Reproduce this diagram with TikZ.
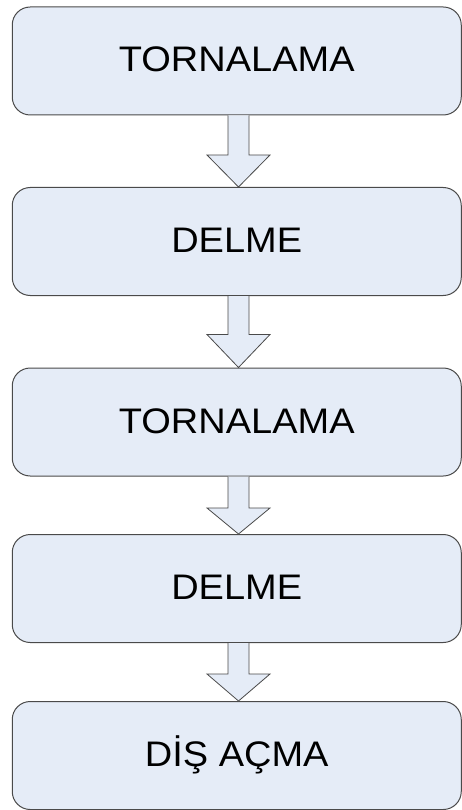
\documentclass[tikz,border=0pt]{standalone}
\usepackage{fontspec}
\setmainfont[FakeStretch=1.07]{Liberation Sans}
\usetikzlibrary{calc}
\definecolor{boxfill}{HTML}{E5ECF7}
\definecolor{boxline}{HTML}{4A4A4A}
\tikzset{
  stepbox/.style={draw=boxline, fill=boxfill, line width=1pt, rounded corners=18pt,
    minimum width=449pt, minimum height=108pt, inner sep=0pt,
    text height=25pt, text depth=3pt,
    font=\fontsize{35.5}{42}\selectfont},
  blockarrow/.style={draw=boxline, fill=boxfill, line width=0.8pt, line join=miter}
}
\newcommand\flowarrow[3]{% from, to, head length
  \path ([xshift=1.75pt]#1.south) coordinate (fa-top)
        ([xshift=1.75pt]#2.north) coordinate (fa-tip);
  \draw[blockarrow] ($(fa-top)+(-10.5pt,0)$) -- ($(fa-tip)+(-10.5pt,#3)$)
    -- ($(fa-tip)+(-31.5pt,#3)$) -- (fa-tip) -- ($(fa-tip)+(31.5pt,#3)$)
    -- ($(fa-tip)+(10.5pt,#3)$) -- ($(fa-top)+(10.5pt,0)$);
}
\begin{document}
\begin{tikzpicture}
\useasboundingbox (0pt,0pt) rectangle (462pt,-810pt);
\node[stepbox] (b1) at (236.75pt,-61pt) {TORNALAMA};
\node[stepbox] (b2) at (236.75pt,-241.5pt) {DELME};
\node[stepbox] (b3) at (236.75pt,-422pt) {TORNALAMA};
\node[stepbox] (b4) at (236.75pt,-588.5pt) {DELME};
\node[stepbox] (b5) at (236.75pt,-755.5pt) {DİŞ AÇMA};
\flowarrow{b1}{b2}{32pt}
\flowarrow{b2}{b3}{33pt}
\flowarrow{b3}{b4}{26pt}
\flowarrow{b4}{b5}{27pt}
\end{tikzpicture}
\end{document}
